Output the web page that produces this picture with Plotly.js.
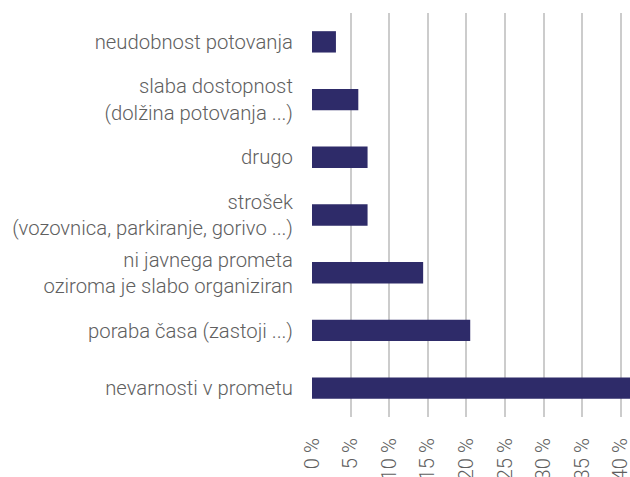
<!DOCTYPE html>
<html>
<head>
<meta charset="utf-8">
<script src="https://cdn.plot.ly/plotly-3.0.1.min.js"></script>
<style>
  html, body { margin: 0; padding: 0; background: #fff; }
  #chart { width: 630px; height: 477px; }
</style>
</head>
<body>
<div id="chart"></div>
<script>
// categories from bottom to top (plotly draws the first at the bottom)
const reasons = [
  "nevarnosti v prometu",
  "poraba časa (zastoji ...)",
  "ni javnega prometa<br>oziroma je slabo organiziran",
  "strošek<br>(vozovnica, parkiranje, gorivo ...)",
  "drugo",
  "slaba dostopnost<br>(dolžina potovanja ...)",
  "neudobnost potovanja"
];
const shares = [42.5, 20.5, 14.4, 7.2, 7.2, 6.0, 3.1];
const tickValues = [0, 5, 10, 15, 20, 25, 30, 35, 40];
const tickLabels = ["0 %", "5 %", "10 %", "15 %", "20 %", "25 %", "30 %", "35 %", "40 %"];

const labelFont = { family: "'Roboto Light', Roboto, sans-serif", size: 20.3, color: "#606060", weight: 300 };

const trace = {
  type: "bar",
  orientation: "h",
  x: shares,
  y: reasons,
  marker: { color: "#2e2b69" },
  hoverinfo: "none"
};

const layout = {
  width: 630,
  height: 477,
  margin: { l: 312, r: 0, t: 13, b: 60 },
  paper_bgcolor: "#fff",
  plot_bgcolor: "#fff",
  bargap: 0.63,
  showlegend: false,
  xaxis: {
    range: [0, 41.2],
    tickvals: tickValues,
    ticktext: tickLabels,
    tickangle: -90,
    tickfont: labelFont,
    ticklabeloverflow: "allow",
    automargin: false,
    showgrid: true,
    gridcolor: "#cccccc",
    gridwidth: 2,
    zeroline: false,
    showline: false,
    ticks: "outside",
    ticklen: 12,
    tickcolor: "rgba(0,0,0,0)"
  },
  yaxis: {
    tickfont: labelFont,
    automargin: false,
    showgrid: false,
    zeroline: false,
    showline: false,
    ticks: "outside",
    ticklen: 14,
    tickcolor: "rgba(0,0,0,0)"
  }
};

Plotly.newPlot("chart", [trace], layout, { displayModeBar: false, staticPlot: true });
</script>
</body>
</html>
